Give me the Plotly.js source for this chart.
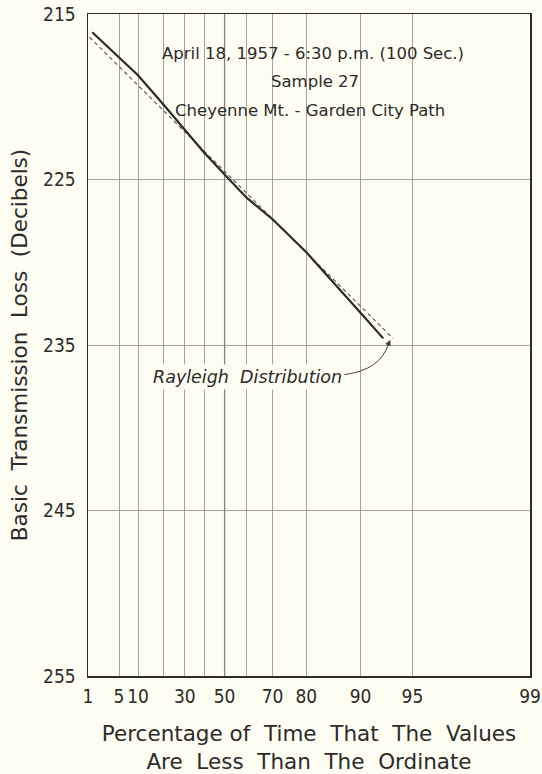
<!DOCTYPE html>
<html>
<head>
<meta charset="utf-8">
<script src="https://cdn.plot.ly/plotly-3.0.1.min.js"></script>
<style>
  html, body { margin: 0; padding: 0; background: #fdfdf2; }
  #chart { width: 542px; height: 774px; }
</style>
</head>
<body>
<div id="chart"></div>
<script>
// ---- data ----
// measured distribution (solid line)
const measuredPct = [1.3, 5, 10, 20, 30, 40, 50, 60, 70, 80, 90, 92.6];
const measuredLoss = [216.1, 217.6, 218.7, 220.5, 222.0, 223.4, 224.7, 226.1, 227.4, 229.4, 233.05, 234.6];
// Rayleigh distribution (dashed line)
const rayleighPct = [1.1, 93.5];
const rayleighLoss = [216.4, 234.6];
// axis ticks
const gridPct = [1, 5, 10, 20, 30, 40, 50, 60, 70, 80, 90, 95, 99];
const gridLabels = ['1', '5', '10', '', '30', '', '50', '', '70', '80', '90', '95', '99'];
const medianPct = 50; // the heavier rule of the probability paper
const lossTicks = [215, 225, 235, 245, 255];
const lossLabels = ['215', '225', '235', '245', '255'];
const headerLines = ['April 18, 1957 - 6:30 p.m. (100 Sec.)', 'Sample 27', 'Cheyenne Mt. - Garden City Path'];

// Rayleigh probability paper: position is -ln(P) on a log scale (reversed)
const toPaper = p => -Math.log(p / 100);

const BG = '#fdfdf2';
const INK = '#2b2b2b';
const NARROW = '"DejaVu Sans Condensed", "Liberation Sans Narrow", sans-serif';
const LETTER = '"DejaVu Sans", "Noto Sans", sans-serif';

const traces = [
  {
    x: [toPaper(medianPct), toPaper(medianPct)],
    y: [lossTicks[0], lossTicks[lossTicks.length - 1]],
    mode: 'lines', type: 'scatter',
    line: { color: '#858581', width: 1.3 },
    hoverinfo: 'skip', showlegend: false
  },
  {
    x: rayleighPct.map(toPaper), y: rayleighLoss,
    mode: 'lines', type: 'scatter',
    line: { color: '#555', width: 1.1, dash: '4px,3px' },
    hoverinfo: 'skip', showlegend: false
  },
  {
    x: measuredPct.map(toPaper), y: measuredLoss,
    mode: 'lines', type: 'scatter',
    line: { color: INK, width: 2.2 },
    hoverinfo: 'skip', showlegend: false
  }
];

const layout = {
  width: 542, height: 774,
  margin: { l: 88, r: 12, t: 14, b: 98 },
  paper_bgcolor: BG, plot_bgcolor: BG,
  showlegend: false,
  xaxis: {
    type: 'log',
    range: [Math.log10(toPaper(gridPct[0])), Math.log10(toPaper(gridPct[gridPct.length - 1]))],
    tickmode: 'array',
    tickvals: gridPct.map(toPaper),
    ticktext: gridLabels,
    ticks: '',
    showgrid: true, gridcolor: '#a3a3a0', gridwidth: 1,
    zeroline: false,
    showline: true, mirror: true, linecolor: INK, linewidth: 1.5,
    tickfont: { family: NARROW, size: 19, color: INK },
    ticklabelstandoff: 3,
    title: {
      text: 'Percentage of  Time  That  The  Values<br>Are  Less  Than  The  Ordinate',
      font: { family: LETTER, size: 21.5, color: INK },
      standoff: 21
    }
  },
  yaxis: {
    range: [lossTicks[lossTicks.length - 1], lossTicks[0]],
    tickmode: 'array',
    tickvals: lossTicks,
    ticktext: lossLabels,
    ticks: '',
    showgrid: true, gridcolor: '#a3a3a0', gridwidth: 1,
    zeroline: false,
    showline: true, mirror: true, linecolor: INK, linewidth: 1.5,
    tickfont: { family: NARROW, size: 19, color: INK },
    ticklabelstandoff: 7,
    title: {
      text: 'Basic  Transmission  Loss  (Decibels)',
      font: { family: LETTER, size: 21.5, color: INK },
      standoff: 9
    }
  },
  shapes: [
    // blank panel behind the header lettering (hides the grid, stays under the curves)
    { type: 'rect', xref: 'paper', yref: 'paper', x0: 0.165, x1: 0.86, y0: 0.848, y1: 0.982,
      fillcolor: BG, line: { width: 0 }, layer: 'between' },
    // curved leader from the label to the Rayleigh curve
    { type: 'path', xref: 'paper', yref: 'paper',
      path: 'M 0.578 0.455 Q 0.662 0.462 0.680 0.502',
      line: { color: '#444', width: 1 } }
  ],
  annotations: [
    { xref: 'paper', yref: 'paper', x: 0.509, y: 0.958, text: headerLines[0], showarrow: false,
      font: { family: LETTER, size: 16.5, color: INK } },
    { xref: 'paper', yref: 'paper', x: 0.513, y: 0.915, text: headerLines[1], showarrow: false,
      font: { family: LETTER, size: 16.5, color: INK } },
    { xref: 'paper', yref: 'paper', x: 0.502, y: 0.871, text: headerLines[2], showarrow: false,
      font: { family: LETTER, size: 16.5, color: INK } },
    { xref: 'paper', yref: 'paper', x: 0.360, y: 0.451, text: '<i>Rayleigh  Distribution</i>', showarrow: false,
      font: { family: LETTER, size: 17.5, color: INK }, bgcolor: BG, borderpad: 2 },
    { xref: 'paper', yref: 'paper', x: 0.684, y: 0.508, text: ' ', showarrow: true,
      ax: -4, ay: 9, arrowhead: 2, arrowsize: 1, arrowwidth: 1.2, arrowcolor: '#444', standoff: 0 }
  ]
};

Plotly.newPlot('chart', traces, layout, { staticPlot: true, displayModeBar: false });
</script>
</body>
</html>
